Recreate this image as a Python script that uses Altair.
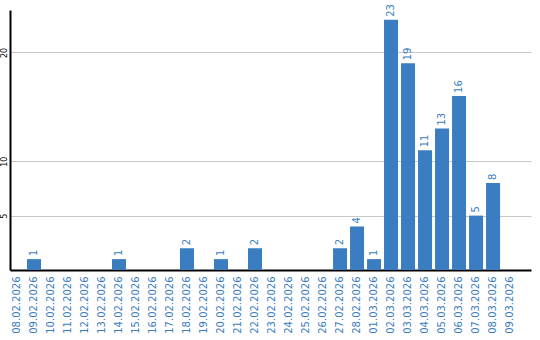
import altair as alt
import pandas as pd

dates = ["08.02.2026", "09.02.2026", "10.02.2026", "11.02.2026", "12.02.2026",
         "13.02.2026", "14.02.2026", "15.02.2026", "16.02.2026", "17.02.2026",
         "18.02.2026", "19.02.2026", "20.02.2026", "21.02.2026", "22.02.2026",
         "23.02.2026", "24.02.2026", "25.02.2026", "26.02.2026", "27.02.2026",
         "28.02.2026", "01.03.2026", "02.03.2026", "03.03.2026", "04.03.2026",
         "05.03.2026", "06.03.2026", "07.03.2026", "08.03.2026", "09.03.2026"]
values = [0, 1, 0, 0, 0, 0, 1, 0, 0, 0, 2, 0, 1, 0, 2, 0, 0, 0, 0, 2, 4, 1,
          23, 19, 11, 13, 16, 5, 8, 0]
y_ticks = [5, 10, 20]

df = pd.DataFrame({"date": dates, "value": values})
df["label"] = df["value"].apply(lambda v: str(v) if v > 0 else "")

blue = "#3b7dc1"

x_enc = alt.X("date:N", sort=dates, title=None,
              scale=alt.Scale(paddingInner=0.176, paddingOuter=0.41, align=0),
              axis=alt.Axis(labelAngle=-90, labelColor=blue, labelFontSize=10,
                            labelFont="DejaVu Sans", ticks=False, domainColor="black",
                            domainWidth=2, labelPadding=6, grid=False))
y_enc = alt.Y("value:Q", title=None,
              scale=alt.Scale(domain=[0, 23.9], nice=False),
              axis=alt.Axis(values=y_ticks, labelAngle=-90, labelFontSize=8,
                            labelColor="black", labelFont="DejaVu Sans",
                            labelBaseline="bottom", labelAlign="center",
                            ticks=False, labelPadding=2, domainColor="black",
                            domainWidth=2, gridColor="#c8c8c8", gridWidth=1.2))

bars = alt.Chart(df).mark_bar(color=blue).encode(x=x_enc, y=y_enc)
text = alt.Chart(df).mark_text(angle=270, align="left", baseline="middle", dx=3,
                               color=blue, fontSize=10, font="DejaVu Sans").encode(
    x=alt.X("date:N", sort=dates), y="value:Q", text="label:N")

chart = alt.layer(bars, text).properties(
    width=521, height=260,
    background="white",
    autosize=alt.AutoSizeParams(type="none"),
    padding={"left": 10, "top": 10, "right": 9, "bottom": 70},
).configure_view(stroke=None)

chart.save("out.html", embed_options={"renderer": "svg", "actions": False})
